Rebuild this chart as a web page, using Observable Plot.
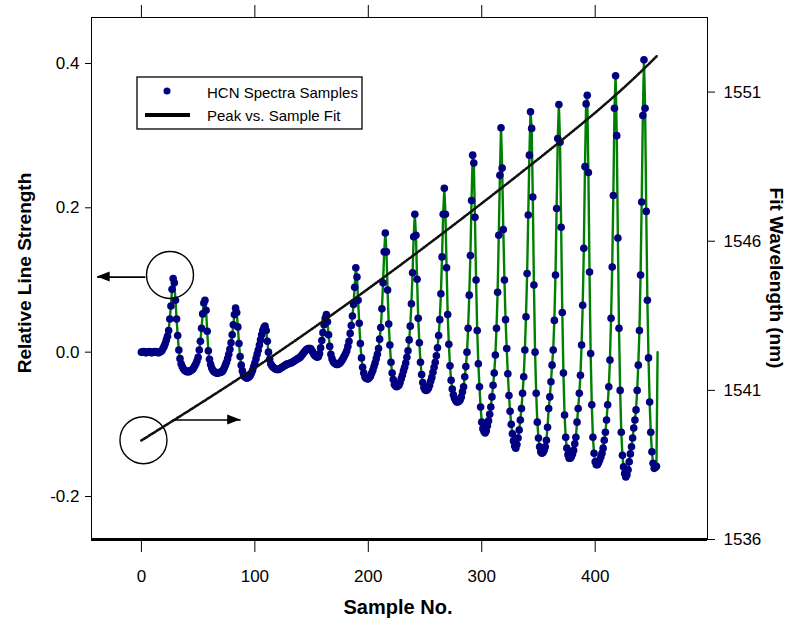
<!DOCTYPE html>
<html><head><meta charset="utf-8">
<script src="https://cdn.jsdelivr.net/npm/d3@7"></script>
<script src="https://cdn.jsdelivr.net/npm/@observablehq/plot@0.6"></script>
<style>body{margin:0;background:#fff;} #chart{position:relative;width:791px;height:622px;}</style>
</head><body><div id="chart"></div>
<script>
// Relative line strength, one value per sample (index = sample number)
const strength = [
 0.000, 0.000, 0.001, 0.000,-0.001, 0.000, 0.000, 0.001, 0.000,-0.001,
 0.000, 0.000, 0.001, 0.000, 0.000,-0.001, 0.000, 0.001, 0.002, 0.005,
 0.008, 0.012, 0.017, 0.022, 0.030, 0.046, 0.064, 0.087, 0.102, 0.096,
 0.072, 0.046, 0.023, 0.003,-0.009,-0.016,-0.020,-0.023,-0.025,-0.026,
-0.027,-0.027,-0.027,-0.026,-0.025,-0.024,-0.022,-0.019,-0.016,-0.012,
-0.007, 0.003, 0.015, 0.033, 0.053, 0.068, 0.072, 0.058, 0.029, 0.002,
-0.010,-0.017,-0.022,-0.025,-0.027,-0.028,-0.029,-0.029,-0.029,-0.028,
-0.028,-0.027,-0.025,-0.022,-0.018,-0.014,-0.009,-0.003, 0.004, 0.013,
 0.024, 0.038, 0.052, 0.061, 0.055, 0.035, 0.012,-0.006,-0.018,-0.026,
-0.031,-0.034,-0.035,-0.036,-0.035,-0.034,-0.032,-0.029,-0.025,-0.020,
-0.015,-0.009,-0.003, 0.003, 0.010, 0.017, 0.024, 0.030, 0.034, 0.036,
 0.030, 0.015, 0.000,-0.010,-0.016,-0.019,-0.021,-0.022,-0.023,-0.024,
-0.024,-0.024,-0.023,-0.022,-0.021,-0.020,-0.019,-0.018,-0.017,-0.016,
-0.016,-0.015,-0.015,-0.014,-0.013,-0.012,-0.011,-0.010,-0.009,-0.008,
-0.007,-0.005,-0.003,-0.001, 0.001, 0.003, 0.004, 0.005, 0.005, 0.005,
 0.003, 0.000,-0.003,-0.005,-0.006,-0.007,-0.006,-0.002, 0.006, 0.016,
 0.027, 0.038, 0.047, 0.052, 0.042, 0.024, 0.008,-0.003,-0.009,-0.013,
-0.015,-0.016,-0.017,-0.017,-0.016,-0.015,-0.013,-0.011,-0.008,-0.005,
-0.002, 0.002, 0.008, 0.015, 0.026, 0.037, 0.050, 0.066, 0.090, 0.117,
 0.104, 0.072, 0.040, 0.012,-0.008,-0.021,-0.029,-0.034,-0.036,-0.037,
-0.037,-0.035,-0.033,-0.029,-0.025,-0.020,-0.015,-0.009,-0.003, 0.005,
 0.018, 0.034, 0.060, 0.096, 0.139, 0.165, 0.139, 0.086, 0.039, 0.010,
-0.014,-0.029,-0.038,-0.045,-0.047,-0.048,-0.047,-0.046,-0.042,-0.037,
-0.032,-0.026,-0.021,-0.015,-0.007, 0.002, 0.017, 0.036, 0.067, 0.110,
 0.160, 0.191, 0.162, 0.101, 0.047, 0.013,-0.014,-0.031,-0.042,-0.049,
-0.052,-0.053,-0.052,-0.050,-0.046,-0.040,-0.035,-0.028,-0.021,-0.014,
-0.005, 0.006, 0.023, 0.045, 0.081, 0.132, 0.191, 0.227, 0.191, 0.117,
 0.052, 0.011,-0.019,-0.039,-0.051,-0.059,-0.064,-0.067,-0.069,-0.069,
-0.068,-0.066,-0.062,-0.055,-0.048,-0.034,-0.020, 0.000, 0.033, 0.079,
 0.134, 0.210, 0.273, 0.262, 0.187, 0.100, 0.030,-0.016,-0.048,-0.076,
-0.097,-0.106,-0.110,-0.112,-0.109,-0.102,-0.095,-0.086,-0.076,-0.062,
-0.046,-0.029,-0.004, 0.033, 0.083, 0.162, 0.245, 0.311, 0.255, 0.170,
 0.100, 0.045, 0.005,-0.030,-0.060,-0.082,-0.100,-0.113,-0.123,-0.130,
-0.133,-0.128,-0.119,-0.108,-0.094,-0.078,-0.057,-0.034, 0.003, 0.049,
 0.109, 0.190, 0.273, 0.333, 0.310, 0.215, 0.093, 0.000,-0.057,-0.097,
-0.119,-0.131,-0.138,-0.140,-0.139,-0.136,-0.131,-0.122,-0.104,-0.078,
-0.062,-0.041,-0.018, 0.003, 0.044, 0.107, 0.199, 0.296, 0.343, 0.291,
 0.173, 0.055,-0.029,-0.087,-0.118,-0.133,-0.142,-0.147,-0.147,-0.145,
-0.141,-0.136,-0.127,-0.118,-0.097,-0.078,-0.057,-0.032, 0.010, 0.065,
 0.144, 0.257, 0.344, 0.356, 0.249, 0.111,-0.002,-0.073,-0.118,-0.140,
-0.152,-0.156,-0.156,-0.153,-0.149,-0.145,-0.140,-0.133,-0.122,-0.111,
-0.094,-0.073,-0.048,-0.011, 0.047, 0.118, 0.217, 0.338, 0.383, 0.300,
 0.158, 0.033,-0.053,-0.111,-0.143,-0.159,-0.168,-0.173,-0.170,-0.163,
-0.152,-0.141,-0.131,-0.119,-0.105,-0.094,-0.080,-0.053,-0.018, 0.030,
 0.107, 0.208, 0.328, 0.405, 0.338, 0.195, 0.072,-0.008,-0.069,-0.111,
-0.138,-0.154,-0.161,-0.160,-0.158, 0.000
];
// Peak vs. sample fit (right axis, nm)
const fitSamples = [0, 100, 200, 300, 400, 455];
const fitWavelength = [1539.32, 1541.75, 1544.41, 1547.27, 1550.31, 1552.23];
// Axis ticks
const xTicks = [0, 100, 200, 300, 400];
const yTicks = [-0.2, 0, 0.2, 0.4];
const yTickLabels = ["-0.2", "0.0", "0.2", "0.4"];
const wlTicks = [1536, 1541, 1546, 1551];
const legendLabels = ["HCN Spectra Samples", "Peak vs. Sample Fit"];
// Annotations (circles and arrows), in data units of sample / strength
const circleSamples = [25.2, 1.8];
const circleValues = [0.107, -0.122];
const arrowFrom = [[3.5, 0.104], [27.4, -0.094]];
const arrowTo = [[-39, 0.104], [87.5, -0.094]];

const xDomain = [-44, 499];
const yDomain = [-0.2596, 0.4637];
const wlDomain = [1536, 1553.5];
const toY = wl => yDomain[0] + (wl - wlDomain[0]) * (yDomain[1] - yDomain[0]) / (wlDomain[1] - wlDomain[0]);

const samples = strength.map((v, i) => ({sample: i, value: v}));
const fit = fitSamples.map((s, i) => ({sample: s, value: toY(fitWavelength[i])}));
const circles = circleSamples.map((s, i) => ({sample: s, value: circleValues[i]}));
const arrows = arrowFrom.map((f, i) => ({x1: f[0], y1: f[1], x2: arrowTo[i][0], y2: arrowTo[i][1]}));
const wlTickY = wlTicks.map(toY);
const font = "'Liberation Sans', Arial, sans-serif";

const plot = Plot.plot({
  width: 791, height: 622,
  marginLeft: 91, marginRight: 84, marginTop: 17, marginBottom: 83,
  style: {fontFamily: font, fontSize: "17px", background: "white", color: "black", overflow: "visible"},
  x: {domain: xDomain},
  y: {domain: yDomain},
  marks: [
    Plot.frame({stroke: "black", strokeWidth: 1}),
    Plot.line(samples, {x: "sample", y: "value", stroke: "#008000", strokeWidth: 2.4}),
    Plot.dot(samples.slice(0, -1), {x: "sample", y: "value", r: 3.8, fill: "#000080", stroke: "none"}),
    Plot.line(fit, {x: "sample", y: "value", stroke: "#222", strokeWidth: 0.8, curve: "natural"}),
    Plot.line(fit, {x: "sample", y: "value", stroke: "#111", strokeWidth: 2.6, strokeDasharray: "1.4 1.6", curve: "natural"}),
    Plot.ruleY([yDomain[0]], {stroke: "black", strokeWidth: 3}),
    Plot.dot(circles, {x: "sample", y: "value", r: 23.5, stroke: "black", strokeWidth: 1.4, fill: "none"}),
    Plot.link(arrows, {x1: "x1", y1: "y1", x2: "x2", y2: "y2", stroke: "black", strokeWidth: 1.6}),
    Plot.axisY(yTicks, {anchor: "left", tickSize: 6, tickPadding: 6, label: null, fontSize: 17,
      tickFormat: d => yTickLabels[yTicks.findIndex(t => Math.abs(t - d) < 1e-9)]}),
    Plot.axisY(wlTickY, {anchor: "right", tickSize: 7, tickPadding: 9, label: null, fontSize: 17,
      tickFormat: d => String(wlTicks[wlTickY.findIndex(t => Math.abs(t - d) < 1e-9)])}),
    Plot.axisX(xTicks, {anchor: "bottom", tickSize: 13, tickPadding: 17, label: null, fontSize: 17}),
    Plot.axisX(xTicks, {anchor: "top", tickSize: 13, tickFormat: () => "", label: null})
  ]
});
document.getElementById("chart").appendChild(plot);

const svg = d3.select(plot);
const sx = plot.scale("x"), sy = plot.scale("y");
// arrowheads
arrows.forEach(a => {
  const x1 = sx.apply(a.x1), x2 = sx.apply(a.x2), y2 = sy.apply(a.y2);
  const dir = Math.sign(x2 - x1), len = 13, half = 5;
  svg.append("path")
    .attr("d", `M${x2},${y2}L${x2 - dir * len},${y2 - half}L${x2 - dir * len},${y2 + half}Z`)
    .attr("fill", "black");
});
// titles
svg.append("text").attr("transform", "translate(24,273) rotate(-90)")
  .attr("text-anchor", "middle").attr("dominant-baseline", "central")
  .attr("font-family", font).attr("font-weight", "bold").attr("font-size", 19).text("Relative Line Strength");
svg.append("text").attr("transform", "translate(776,278) rotate(90)")
  .attr("text-anchor", "middle").attr("dominant-baseline", "central")
  .attr("font-family", font).attr("font-weight", "bold").attr("font-size", 19).text("Fit Wavelength (nm)");
svg.append("text").attr("x", 398).attr("y", 607)
  .attr("text-anchor", "middle").attr("dominant-baseline", "central")
  .attr("font-family", font).attr("font-weight", "bold").attr("font-size", 20).text("Sample No.");
// legend
const lg = svg.append("g");
lg.append("rect").attr("x", 137).attr("y", 77).attr("width", 225).attr("height", 52)
  .attr("fill", "white").attr("stroke", "black").attr("stroke-width", 1.3);
lg.append("circle").attr("cx", 167).attr("cy", 91).attr("r", 3.5).attr("fill", "#000080");
lg.append("line").attr("x1", 145).attr("x2", 190).attr("y1", 115).attr("y2", 115)
  .attr("stroke", "black").attr("stroke-width", 4);
legendLabels.forEach((t, i) => {
  lg.append("text").attr("x", 207).attr("y", 97.5 + i * 23.5).attr("text-anchor", "start")
    .attr("font-family", font).attr("font-size", 15).text(t);
});
</script></body></html>
